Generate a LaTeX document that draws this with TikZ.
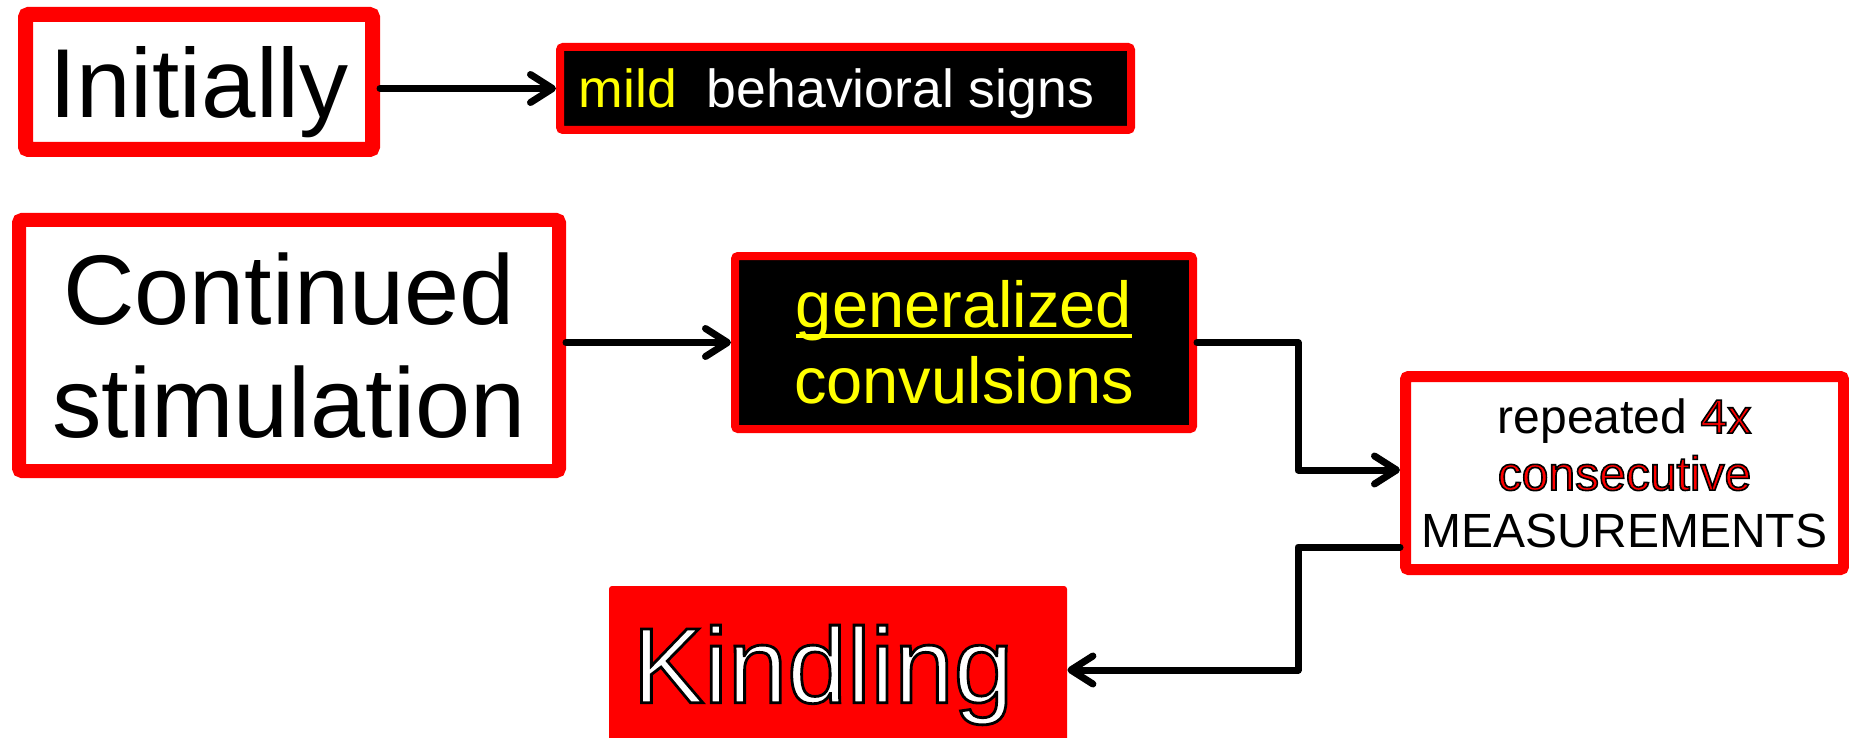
\documentclass[tikz,border=0pt]{standalone}
\usepackage{fontspec}
\setmainfont{Liberation Sans}
\usetikzlibrary{arrows.meta}
\definecolor{pptred}{RGB}{255,0,0}
\definecolor{pptyellow}{RGB}{255,255,0}
\newlength\ulwd
\newcommand\ulword[1]{\settowidth\ulwd{#1}\rlap{\rule[-5pt]{\ulwd}{2pt}}#1}
\newcommand\outl[2][0.8]{\special{pdf:literal direct 2 Tr #1 w 0 0 0 RG}#2\special{pdf:literal direct 0 Tr}}

\begin{document}
\begin{tikzpicture}[x=0.5pt, y=-0.5pt,
        box/.style={draw=pptred, fill=white, rounded corners=1.5pt,
                    inner sep=0pt, align=center},
        dark/.style={box, fill=black},
        conn/.style={line width=3.5pt, line cap=round, line join=round,
                     -{Straight Barb[length=11pt, width=14pt, line cap=round, line join=round]}}]
      \clip (0,0) rectangle (1849,738);
      \node[box, line width=7.5pt, minimum width=173.5pt, minimum height=67.5pt,
            text depth=0pt, font=\fontsize{49}{56}\selectfont] (init) at (199,82) {Initially};
      \node[dark, line width=4pt, minimum width=285.5pt, minimum height=41.5pt,
            text depth=0pt, text=white, font=\fontsize{26.8}{30}\selectfont] (mild) at (845.5,88.5)
            {\textcolor{pptyellow}{mild}\ \ behavioral signs\hspace{9pt}};
      \node[box, line width=7pt, minimum width=270pt, minimum height=125.5pt,
            font=\fontsize{49.5}{56.5}\selectfont] (cont) at (289,345.5)
            {Continued\\stimulation};
      \node[dark, line width=4pt, minimum width=229pt, minimum height=86.5pt,
            text=pptyellow, font=\fontsize{32.5}{38}\selectfont] (gen) at (964,342.5)
            {\ulword{generalized}\\convulsions};
      \node[box, line width=5.5pt, minimum width=219pt, minimum height=96.5pt,
            font=\fontsize{24}{28.5}\selectfont] (meas) at (1624.5,473)
            {repeated \textcolor{pptred}{\outl{4x}}\\
             \textcolor{pptred}{\outl{consecutive}}\\
             MEASUREMENTS};
      \node[box, draw=none, fill=pptred, minimum width=229pt, minimum height=89pt,
            text=white, font=\fontsize{53.5}{60}\selectfont] (kind) at (838,675)
            {\outl[1.4]{Kindling}\hspace{15pt}};
      \coordinate (bendx) at (1298,0);
      \draw[conn] (init.east |- mild.west) -- (mild.west);
      \draw[conn] (cont.east |- gen.west) -- (gen.west);
      \draw[conn] (gen.east) -- (gen.east -| bendx) |- ([yshift=1.5pt]meas.west);
      \draw[conn] ([yshift=-37pt]meas.west) -- ([yshift=-37pt]meas.west -| bendx)
            |- ([yshift=2.5pt]kind.east);
    \end{tikzpicture}
\end{document}
